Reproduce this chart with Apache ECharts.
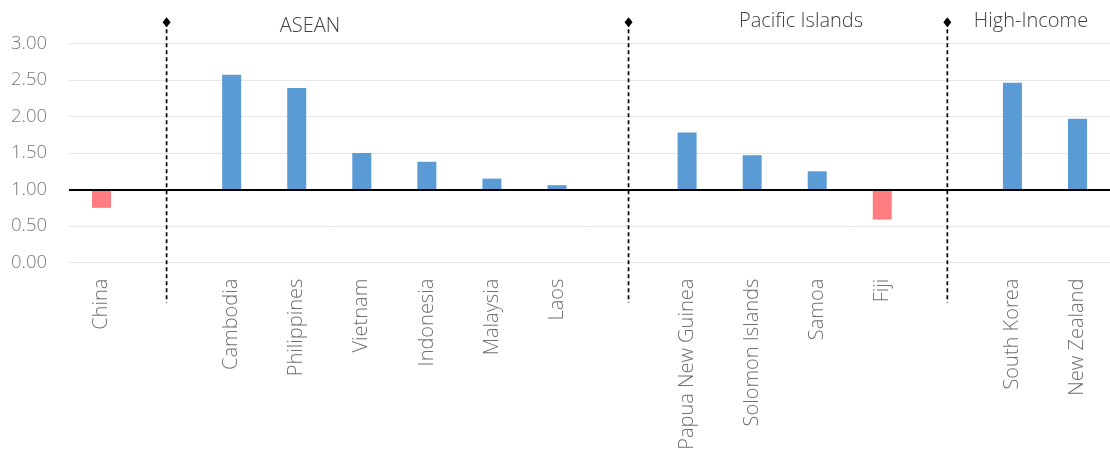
<!DOCTYPE html>
<html>
<head>
<meta charset="utf-8">
<script src="https://cdn.jsdelivr.net/npm/echarts@6/dist/echarts.min.js"></script>
<style>
  html, body { margin: 0; padding: 0; background: #ffffff; }
  #chart { width: 1110px; height: 449px; }
</style>
</head>
<body>
<div id="chart"></div>
<script>
// Countries, with empty slots where the regional groups are split
const categories = ['China', '', 'Cambodia', 'Philippines', 'Vietnam', 'Indonesia', 'Malaysia', 'Laos', '',
  'Papua New Guinea', 'Solomon Islands', 'Samoa', 'Fiji', '', 'South Korea', 'New Zealand'];
// Ratio per country (1.00 = parity)
const ratios = [0.75, null, 2.57, 2.39, 1.50, 1.38, 1.15, 1.06, null, 1.78, 1.47, 1.25, 0.59, null, 2.46, 1.97];
// Value-axis ticks
const yTicks = [0, 0.5, 1, 1.5, 2, 2.5, 3];
// Regional group names
const groupNames = ['ASEAN', 'Pacific Islands', 'High-Income'];
// Bars grow up or down from this reference level
const baseline = 1;

const FONT = '"Open Sans", "DejaVu Sans", sans-serif';
const BLUE = '#5B9BD5';
const RED = '#FF7C80';

const barData = ratios.map(function (v) {
  if (v == null) return '-';
  return {
    value: +(v - baseline).toFixed(4),
    itemStyle: { color: v >= baseline ? BLUE : RED }
  };
});

// Separator positions along the category axis (index units)
const separatorAt = [1, 8.1, 13];
// Group label anchors: [x, y] in pixels
const groupLabelPos = [[310, 26], [801, 21], [1031, 21]];

const chart = echarts.init(document.getElementById('chart'), null, { renderer: 'canvas' });

chart.setOption({
  animation: false,
  backgroundColor: '#ffffff',
  grid: {
    left: 69, right: 0, top: 43.3, bottom: 186.3,
    containLabel: false,
    outerBoundsMode: 'none'
  },
  xAxis: [
    {
      type: 'category',
      data: categories,
      position: 'bottom',
      axisLine: { show: false, onZero: false },
      axisTick: { show: false },
      splitLine: { show: false },
      axisLabel: {
        interval: 0,
        rotate: 90,
        margin: 16,
        color: '#707070',
        fontFamily: FONT,
        fontWeight: 300,
        fontSize: 20
      }
    },
    {
      type: 'value',
      min: -0.5,
      max: categories.length - 0.5,
      show: false
    }
  ],
  yAxis: {
    type: 'value',
    min: yTicks[0] - baseline,
    max: yTicks[yTicks.length - 1] - baseline,
    interval: yTicks[1] - yTicks[0],
    axisLine: { show: false },
    axisTick: { show: false },
    splitLine: { show: true, lineStyle: { color: '#e6e6e6', width: 1 } },
    axisLabel: {
      margin: 22,
      color: '#7a7a7a',
      fontFamily: FONT,
      fontWeight: 300,
      fontSize: 18.5,
      formatter: function (v) { return (v + baseline).toFixed(2); }
    }
  },
  series: [
    {
      type: 'bar',
      data: barData,
      barWidth: 19,
      xAxisIndex: 0,
      yAxisIndex: 0,
      markLine: {
        silent: true,
        symbol: 'none',
        label: { show: false },
        lineStyle: { color: '#000000', width: 2, type: 'solid' },
        data: [{ yAxis: 0 }]
      },
      z: 3
    },
    {
      type: 'custom',
      xAxisIndex: 1,
      yAxisIndex: 0,
      clip: false,
      silent: true,
      data: separatorAt.map(function (s) { return [s, 0]; }),
      encode: { x: 0, y: 1 },
      renderItem: function (params, api) {
        const x = api.coord([api.value(0), 0])[0];
        const cs = params.coordSys;
        const top = cs.y - 21;
        const bottom = cs.y + cs.height + 40;
        return {
          type: 'group',
          children: [
            {
              type: 'line',
              shape: { x1: x, y1: top, x2: x, y2: bottom },
              style: { stroke: '#000000', lineWidth: 1.7, lineDash: [4, 3] }
            },
            {
              type: 'polygon',
              shape: { points: [[x, top - 5], [x + 4, top], [x, top + 5], [x - 4, top]] },
              style: { fill: '#000000' }
            }
          ]
        };
      },
      z: 4
    }
  ],
  graphic: groupNames.map(function (name, i) {
    return {
      type: 'text',
      x: groupLabelPos[i][0],
      y: groupLabelPos[i][1],
      style: {
        text: name,
        fill: '#3f3f3f',
        font: '300 20px ' + FONT,
        textAlign: 'center',
        textVerticalAlign: 'middle'
      }
    };
  })
});
</script>
</body>
</html>
